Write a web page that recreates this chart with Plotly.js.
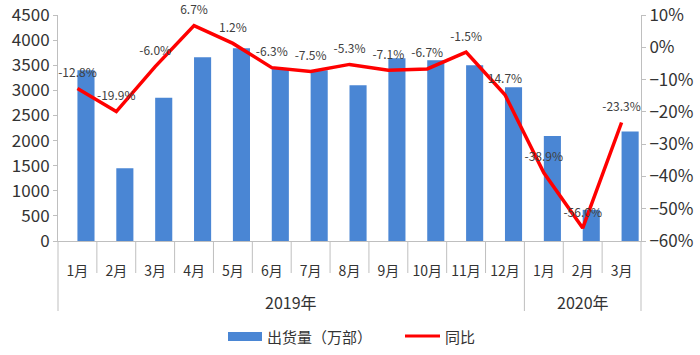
<!DOCTYPE html>
<html><head><meta charset="utf-8">
<script src="https://cdn.plot.ly/plotly-3.0.1.min.js"></script>
<style>html,body{margin:0;padding:0;background:#fff}</style>
</head><body>
<div id="chart" style="width:700px;height:355px"></div>
<script>
var years = ["2019年","2019年","2019年","2019年","2019年","2019年","2019年","2019年","2019年","2019年","2019年","2019年","2020年","2020年","2020年"];
var months = ["1月","2月","3月","4月","5月","6月","7月","8月","9月","10月","11月","12月","1月","2月","3月"];
var shipments = [3400, 1450, 2850, 3660, 3840, 3440, 3400, 3100, 3640, 3600, 3500, 3060, 2090, 620, 2180];
var yoy = [-12.8, -19.9, -6.0, 6.7, 1.2, -6.3, -7.5, -5.3, -7.1, -6.7, -1.5, -14.7, -38.9, -56.0, -23.3];
var yoyLabels = ["-12.8%","-19.9%","-6.0%","6.7%","1.2%","-6.3%","-7.5%","-5.3%","-7.1%","-6.7%","-1.5%","14.7%","-38.9%","-56.0%","-23.3%"];
var seriesNames = ["出货量（万部）", "同比"];

var font = "Noto Sans CJK SC, Noto Sans, sans-serif";
var n = months.length;
var keys = months.map(function(m, i){ return years[i] + "-" + m; });
var L = 58, R = 59, T = 15, B = 114, W = 700, H = 355;
var plotW = W - L - R, plotH = H - T - B;
var axisBottom = H - B;
function px(x){ return (x - L) / plotW; }
function py(y){ return (axisBottom - y) / plotH; }
var axisGray = "#bfbfbf";
var barColor = "#4a86d4", lineColor = "#ff0000";

var traces = [
  {type:"bar", name:seriesNames[0], x:keys, y:shipments,
   marker:{color:barColor}, yaxis:"y", offset:0, width:0.44},
  {type:"scatter", mode:"lines+markers+text", name:seriesNames[1], x:keys, y:yoy,
   yaxis:"y2", line:{color:lineColor, width:3.5},
   marker:{size:12, color:"rgba(0,0,0,0)"},
   text:yoyLabels, textposition:"top center", cliponaxis:false,
   textfont:{size:12, color:"#404040", family:font}}
];

var shapes = [];
for (var i = 0; i <= n; i++) {
  var isLong = (i === 0 || i === n || years[i] !== years[i-1]);
  shapes.push({type:"line", xref:"paper", yref:"paper", x0:i/n, x1:i/n,
    y0:0, y1:-(isLong ? 70 : 32)/plotH, line:{color:axisGray, width:1}});
}
var annotations = [];
var start = 0;
for (var j = 1; j <= n; j++) {
  if (j === n || years[j] !== years[start]) {
    annotations.push({xref:"paper", yref:"paper", x:((start + j)/2)/n, y:-61/plotH,
      text:years[start], showarrow:false, xanchor:"center", yanchor:"middle",
      font:{size:16, color:"#333", family:font}});
    start = j;
  }
}
// legend (drawn manually)
shapes.push({type:"rect", xref:"paper", yref:"paper", x0:px(228), x1:px(262), y0:py(332), y1:py(341),
  fillcolor:barColor, line:{width:0}});
shapes.push({type:"line", xref:"paper", yref:"paper", x0:px(405), x1:px(440), y0:py(336), y1:py(336),
  line:{color:lineColor, width:3}});
annotations.push({xref:"paper", yref:"paper", x:px(265), y:py(336), xanchor:"left", yanchor:"middle",
  text:seriesNames[0], showarrow:false, font:{size:15, color:"#333", family:font}});
annotations.push({xref:"paper", yref:"paper", x:px(443), y:py(336), xanchor:"left", yanchor:"middle",
  text:seriesNames[1], showarrow:false, font:{size:15, color:"#333", family:font}});

var layout = {
  width:W, height:H,
  margin:{l:L, r:R, t:T, b:B},
  paper_bgcolor:"#fff", plot_bgcolor:"#fff",
  font:{family:font, size:14, color:"#333"},
  showlegend:false,
  xaxis:{type:"category", tickvals:keys, ticktext:months, showline:true, linecolor:axisGray,
         linewidth:1, ticks:"", ticklabelstandoff:17,
         tickfont:{size:14, color:"#333"}, showgrid:false, range:[-0.5, n-0.5]},
  yaxis:{range:[0,4500], dtick:500, showline:true, linecolor:axisGray,
         ticks:"outside", ticklen:4, tickcolor:axisGray, showgrid:false, zeroline:false,
         tickfont:{size:17, color:"#333"}},
  yaxis2:{range:[-60,10], dtick:10, overlaying:"y", side:"right", ticksuffix:"%",
          showline:true, linecolor:axisGray, ticks:"outside", ticklen:4, tickcolor:axisGray,
          showgrid:false, zeroline:false, tickfont:{size:17, color:"#333"}},
  shapes:shapes,
  annotations:annotations
};
Plotly.newPlot("chart", traces, layout, {displayModeBar:false});
</script>
</body></html>
